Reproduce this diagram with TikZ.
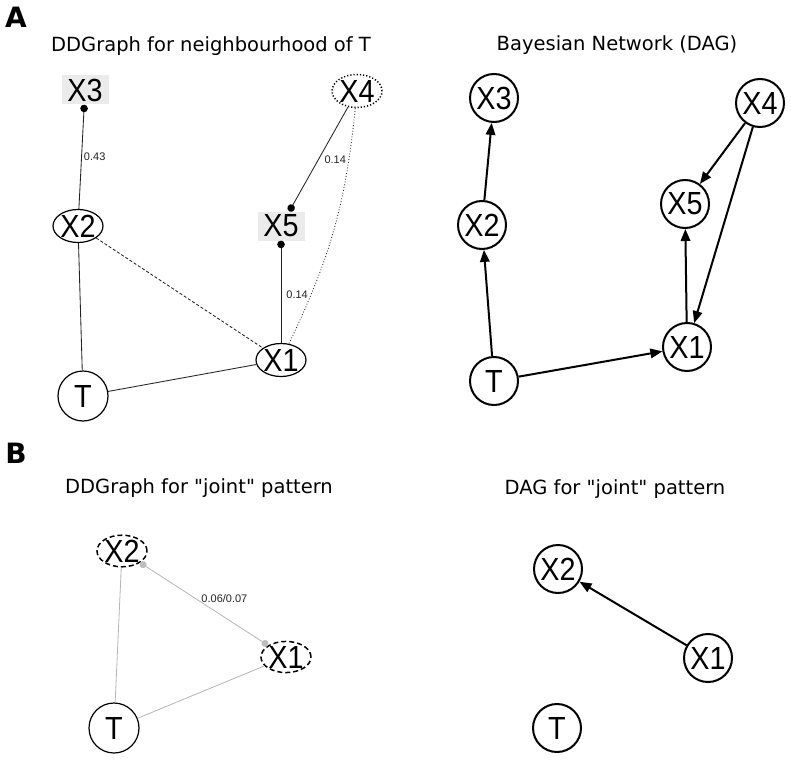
\documentclass[tikz,border=0pt]{standalone}
\usepackage{fontspec}
\setmainfont{Liberation Sans}
\newfontfamily\titlefont{DejaVu Sans}
\newfontfamily\nodefont[FakeStretch=0.9]{Liberation Sans}
\usetikzlibrary{arrows.meta,shapes.geometric}
\definecolor{boxgray}{HTML}{EBEBEB}
\definecolor{edgegray}{HTML}{222222}
\definecolor{lightedge}{HTML}{B5B5B5}
\definecolor{dotgray}{HTML}{BDBDBD}
\definecolor{labelgray}{HTML}{222222}
\begin{document}
\begin{tikzpicture}[x=1pt,y=-1pt,
  lbl/.style={font=\nodefont\fontsize{32}{32}\selectfont},
  ddell/.style={ellipse, draw, line width=1.2pt, minimum width=50pt, minimum height=33pt, inner sep=0pt, lbl},
  ddcirc/.style={circle, draw, line width=1.2pt, minimum size=50pt, inner sep=0pt, lbl},
  ddbox/.style={rectangle, fill=boxgray, minimum width=47pt, minimum height=29pt, inner sep=0pt, lbl},
  dagnode/.style={circle, draw, line width=2pt, minimum size=48pt, inner sep=0pt, lbl},
  dagedge/.style={line width=2pt, -{Triangle[length=12pt,width=9.5pt]}},
  ddedge/.style={line width=0.85pt, draw=edgegray},
  lightline/.style={line width=0.8pt, draw=lightedge},
  elbl/.style={font=\fontsize{11}{11}\selectfont, text=labelgray, inner sep=1pt},
  title/.style={font=\titlefont\fontsize{19.5}{20}\selectfont, anchor=base},
  panel/.style={font=\titlefont\bfseries\fontsize{28}{28}\selectfont},
  dotend/.style={-{Circle[length=7.5pt,color=black]}},
  greydots/.style={{Circle[length=7pt,color=dotgray]}-{Circle[length=7pt,color=dotgray]}}
]
\useasboundingbox (0,0) rectangle (791,759);

% panel letters and titles
\node[panel] (pA) at (16,17) {A};
\node[panel] (pB) at (16,453) {B};
\node[title] (tA1) at (211,52) {DDGraph for neighbourhood of T};
\node[title] (tA2) at (617,51) {Bayesian Network (DAG)};
\node[title] (tB1) at (199,493) {DDGraph for "joint" pattern};
\node[title] (tB2) at (615,494) {DAG for "joint" pattern};

% ---- A left: DDGraph
\node[ddbox] (aX3) at (85,90) {X3};
\node[ddell] (aX2) at (78,226) {X2};
\node[ddell, dotted, line width=1.5pt] (aX4) at (357,91) {X4};
\node[ddbox] (aX5) at (281,226) {X5};
\node[ddell] (aX1) at (281,360) {X1};
\node[ddcirc] (aT) at (83,396) {T};

\draw[ddedge, dotend] (aX2) -- node[midway, right, elbl, xshift=1pt] {0.43} (aX3);
\draw[ddedge, dotend] (aX4) -- node[midway, right, elbl, xshift=4.5pt] {0.14} (aX5);
\draw[ddedge, dotend] (aX1) -- node[midway, right, elbl, xshift=4pt, yshift=-2.5pt] {0.14} (aX5);
\draw[ddedge, dashed, dash pattern=on 3pt off 2pt] (aX2) -- (aX1);
\draw[ddedge, dotted] (aX4) to[bend left=10] (aX1);
\draw[ddedge] (aX2) -- (aT);
\draw[ddedge] (aT) -- (aX1);

% ---- A right: DAG
\node[dagnode] (bX3) at (494,98) {X3};
\node[dagnode] (bX2) at (482,225) {X2};
\node[dagnode] (bT) at (494,381) {T};
\node[dagnode] (bX1) at (687,347) {X1};
\node[dagnode] (bX5) at (685,204) {X5};
\node[dagnode] (bX4) at (760,103) {X4};

\draw[dagedge] (bT) -- (bX2);
\draw[dagedge] (bX2) -- (bX3);
\draw[dagedge] (bT) -- (bX1);
\draw[dagedge] (bX1) -- (bX5);
\draw[dagedge] (bX4) -- (bX5);
\draw[dagedge] (bX4) -- (bX1);

% ---- B left: DDGraph joint
\node[ddell, dashed, dash pattern=on 5pt off 3pt, line width=1.5pt, minimum height=31pt] (cX2) at (122,551) {X2};
\node[ddell, dashed, dash pattern=on 5pt off 3pt, line width=1.5pt, minimum height=31pt] (cX1) at (286,657) {X1};
\node[ddcirc] (cT) at (114,728) {T};

\draw[lightline, greydots] (cX2) -- node[midway, above right, elbl, xshift=-4pt] {0.06/0.07} (cX1);
\draw[lightline] (cX2) -- (cT);
\draw[lightline] (cT) -- (cX1);

% ---- B right: DAG joint
\node[dagnode] (dX2) at (558,569) {X2};
\node[dagnode] (dX1) at (708,658) {X1};
\node[dagnode] (dT) at (557,728) {T};

\draw[dagedge] (dX1) -- (dX2);
\end{tikzpicture}
\end{document}
